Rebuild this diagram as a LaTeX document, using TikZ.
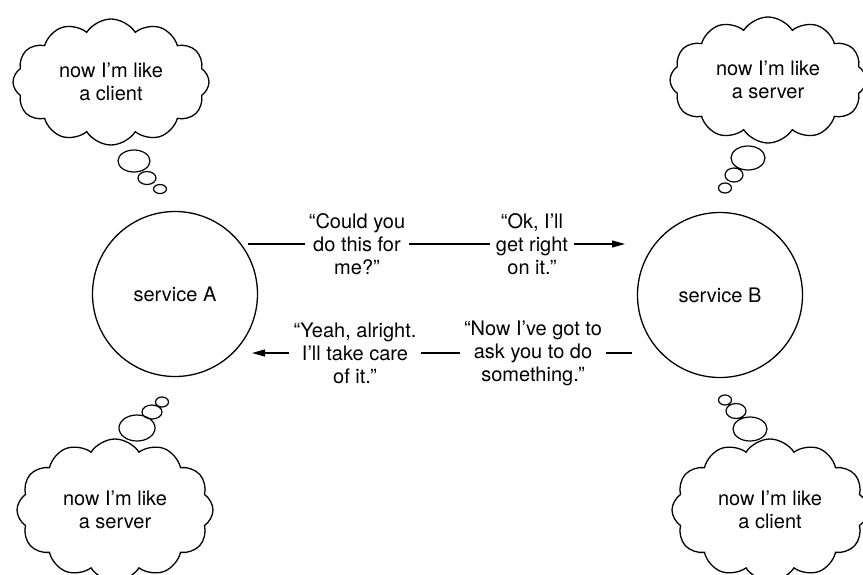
\documentclass[tikz,border=0pt]{standalone}
\usepackage{fontspec}
\setmainfont{TeX Gyre Heros}
\usetikzlibrary{shapes.symbols,arrows.meta}

\begin{document}
\begin{tikzpicture}[x=1pt, y=-1pt,
        servicio/.style={circle, draw, line width=1.3pt, minimum size=165pt, inner sep=0pt, font=\fontsize{20}{23}\selectfont},
        nube/.style={cloud, draw, line width=1.3pt, cloud puffs=12, cloud puff arc=115, cloud ignores aspect, minimum width=196pt, minimum height=126pt, inner sep=0pt, align=center, font=\fontsize{20}{23}\selectfont},
        frase/.style={align=center, inner xsep=4pt, inner ysep=0pt, font=\fontsize{20}{23}\selectfont},
        linea/.style={line width=1.2pt},
        flecha/.style={linea, -{Triangle[length=13pt,width=7pt]}},
        burbuja/.style={line width=1.2pt}]
        \useasboundingbox (0,0) rectangle (863,574);

        % Los dos servicios
        \node[servicio] (A) at (175,294) {service A};
        \node[servicio] (B) at (720,295) {service B};

        % Frases sobre las flechas
        \node[frase] (pide) at (357,244) {“Could you\\do this for\\me?”};
        \node[frase, inner xsep=6pt] (ok) at (532,244) {“Ok, I’ll\\get right\\on it.”};
        \node[frase] (ahora) at (533,353) {“Now I’ve got to\\ask you to do\\something.”};
        \node[frase] (vale) at (355,353) {“Yeah, alright.\\I’ll take care\\of it.”};

        % Extremos libres de las flechas
        \coordinate (a1) at (248,244);
        \coordinate (b1) at (625,244);
        \coordinate (b2) at (632,353);
        \coordinate (a2) at (252,353);

        % Flecha de A hacia B
        \draw[linea] (a1) -- (pide);
        \draw[linea] (pide) -- (ok);
        \draw[flecha] (ok) -- (b1);

        % Flecha de B hacia A
        \draw[linea] (b2) -- (ahora);
        \draw[linea] (ahora) -- (vale);
        \draw[flecha] (vale) -- (a2);

        % Nubes de pensamiento
        \node[nube] (nubeA1) at (111,82) {now I’m like\\a client};
        \node[nube] (nubeB1) at (768,80) {now I’m like\\a server};
        \node[nube, minimum height=142pt] (nubeA2) at (115,510) {now I’m like\\a server};
        \node[nube, minimum height=142pt] (nubeB2) at (770,510) {now I’m like\\a client};

        % Burbujas de las nubes
        \draw[burbuja] (134,161) ellipse [x radius=16, y radius=11]
                       (147,178) ellipse [x radius=9, y radius=6.5]
                       (160,189) ellipse [x radius=6.5, y radius=4.5];
        \draw[burbuja] (748,158) ellipse [x radius=17, y radius=12]
                       (734,175) ellipse [x radius=9, y radius=7]
                       (725,188) ellipse [x radius=6.5, y radius=5];
        \draw[burbuja] (137,428) ellipse [x radius=18, y radius=13]
                       (152,412) ellipse [x radius=10, y radius=7]
                       (162,402) ellipse [x radius=6.5, y radius=5];
        \draw[burbuja] (750,429) ellipse [x radius=17, y radius=12]
                       (736,411) ellipse [x radius=10, y radius=7.5]
                       (725,400) ellipse [x radius=6.5, y radius=5];
\end{tikzpicture}
\end{document}
